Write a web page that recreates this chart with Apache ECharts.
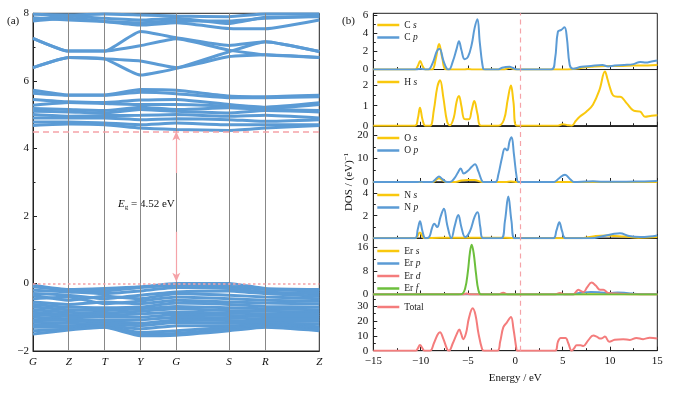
<!DOCTYPE html>
<html><head><meta charset="utf-8">
<script src="https://cdn.jsdelivr.net/npm/echarts@6/dist/echarts.min.js"></script>
<style>html,body{margin:0;padding:0;background:#fff}#c{width:678px;height:393px}</style>
</head><body><div id="c"></div>
<script>
// ---------- Band structure (a) ----------
const kLabels = ['G','Z','T','Y','G','S','R','Z'];
const kPos = [0, 35.7, 71.7, 107.3, 143.3, 196, 232.3, 286.3];

// conduction bands: energies (eV) at G,Z,T,Y,G,S,R,Z
const cb01 = [7.97, 7.95, 7.98, 7.95, 7.92, 7.90, 7.98, 7.98];
const cb02 = [7.87, 7.80, 7.76, 7.72, 7.78, 7.77, 7.85, 7.92];
const cb03 = [7.77, 7.85, 7.76, 7.65, 7.72, 7.55, 7.54, 7.80];
const cb04 = [7.82, 7.92, 7.85, 7.80, 7.85, 7.70, 7.88, 7.90];
const cb05 = [7.26, 6.88, 6.88, 7.46, 7.28, 7.05, 7.16, 6.87];
const cb06 = [7.26, 6.88, 6.88, 7.04, 7.25, 6.91, 6.77, 6.69];
const cb07 = [6.39, 6.69, 6.65, 6.17, 6.37, 6.86, 7.16, 6.87];
const cb08 = [6.39, 6.69, 6.65, 6.59, 6.39, 6.72, 6.77, 6.69];
const cb09 = [5.72, 5.58, 5.58, 5.74, 5.72, 5.55, 5.53, 5.57];
const cb10 = [5.63, 5.57, 5.57, 5.66, 5.62, 5.50, 5.50, 5.53];
const cb11 = [5.45, 5.38, 5.36, 5.43, 5.45, 5.30, 5.22, 5.35];
const cb12 = [5.28, 5.36, 5.33, 5.30, 5.30, 5.25, 5.18, 5.30];
const cb13 = [5.18, 5.15, 5.12, 5.22, 5.15, 5.20, 5.15, 5.12];
const cb14 = [5.10, 5.08, 5.05, 5.15, 5.10, 5.05, 5.12, 5.08];
const cb15 = [5.00, 4.95, 4.97, 4.98, 5.00, 4.95, 4.98, 4.90];
const cb16 = [4.90, 4.90, 4.90, 4.85, 4.88, 4.85, 4.80, 4.85];
const cb17 = [4.78, 4.78, 4.75, 4.70, 4.75, 4.70, 4.70, 4.70];
const cb18 = [4.68, 4.72, 4.70, 4.60, 4.56, 4.53, 4.60, 4.68];
// valence bands
const vb01 = [-0.05, -0.18, -0.15, -0.10, 0.00, 0.00, -0.15, -0.18];
const vb02 = [-0.10, -0.20, -0.22, -0.12, -0.05, -0.08, -0.18, -0.22];
const vb03 = [-0.20, -0.25, -0.30, -0.22, -0.12, -0.15, -0.25, -0.30];
const vb04 = [-0.30, -0.35, -0.45, -0.35, -0.25, -0.22, -0.30, -0.38];
const vb05 = [-0.35, -0.50, -0.38, -0.45, -0.30, -0.35, -0.40, -0.45];
const vb06 = [-0.45, -0.40, -0.60, -0.52, -0.40, -0.45, -0.50, -0.52];
const vb07 = [-0.55, -0.62, -0.55, -0.60, -0.50, -0.55, -0.58, -0.60];
const vb08 = [-0.62, -0.70, -0.72, -0.70, -0.58, -0.62, -0.68, -0.70];
const vb09 = [-0.70, -0.78, -0.80, -0.75, -0.68, -0.72, -0.75, -0.78];
const vb10 = [-0.78, -0.85, -0.88, -0.82, -0.75, -0.80, -0.82, -0.85];
const vb11 = [-0.85, -0.92, -0.95, -0.90, -0.85, -0.88, -0.90, -0.92];
const vb12 = [-0.92, -0.98, -1.00, -1.00, -0.92, -0.95, -0.98, -0.98];
const vb13 = [-1.00, -1.05, -1.10, -1.08, -1.00, -1.02, -1.05, -1.05];
const vb14 = [-1.08, -1.10, -1.15, -1.18, -1.08, -1.10, -1.12, -1.12];
const vb15 = [-1.15, -1.18, -1.20, -1.25, -1.15, -1.18, -1.18, -1.20];
const vb16 = [-1.22, -1.25, -1.25, -1.35, -1.25, -1.25, -1.22, -1.28];
const vb17 = [-1.30, -1.30, -1.28, -1.45, -1.40, -1.30, -1.26, -1.32];
const vb18 = [-1.40, -1.35, -1.28, -1.50, -1.48, -1.35, -1.28, -1.36];
const vb19 = [-1.50, -1.38, -1.30, -1.55, -1.53, -1.40, -1.30, -1.40];

const bands = [cb01,cb02,cb03,cb04,cb05,cb06,cb07,cb08,cb09,cb10,cb11,cb12,cb13,cb14,cb15,cb16,cb17,cb18,
  vb01,vb02,vb03,vb04,vb05,vb06,vb07,vb08,vb09,vb10,vb11,vb12,vb13,vb14,vb15,vb16,vb17,vb18,vb19];
const gapValue = 4.52;
const cbmLine = 4.5, vbmLine = 0;

// ---------- DOS (b): [energy eV, DOS] ----------
const Cs = [[-15,0],[-10.6,0],[-10.3,0.4],[-10.05,0.95],[-9.8,0.4],[-9.5,0],[-8.8,0],[-8.4,1.2],[-8.05,2.85],[-7.7,1.2],[-7.3,0],[-5.4,0],[-5,0.05],[-4.5,0],[-1.2,0],[-0.6,0.2],[0,0],[5.5,0],[6.8,0.15],[8,0.3],[9.6,0.4],[11,0.4],[12.5,0.45],[14,0.45],[15,0.5]];
const Cp = [[-15,0],[-10.5,0],[-10,0.1],[-9.5,0],[-9.2,0],[-8.7,0.8],[-8.3,2.0],[-8.0,2.3],[-7.6,1.0],[-7.2,0.05],[-7.0,0],[-6.6,0.9],[-6.2,2.3],[-5.95,3.15],[-5.7,2.2],[-5.35,1.15],[-5.0,1.4],[-4.6,2.8],[-4.3,4.6],[-4.0,5.6],[-3.75,3.0],[-3.4,0.1],[-3.2,0],[-1.8,0],[-1.4,0.2],[-0.6,0.3],[-0.3,0.2],[0.2,0],[3.8,0],[4.2,1.2],[4.5,4.2],[4.85,4.4],[5.2,4.7],[5.45,3.5],[5.75,0.5],[6.1,0.1],[7,0.3],[8,0.4],[9.2,0.5],[9.8,0.35],[10.5,0.45],[11.5,0.5],[12.5,0.6],[13.2,0.85],[13.8,0.78],[14.4,0.9],[15,1.0]];
const Hs = [[-15,0],[-10.6,0],[-10.3,0.35],[-10.07,0.9],[-9.8,0.3],[-9.5,0],[-9,0],[-8.6,0.8],[-8.25,1.9],[-7.95,2.26],[-7.6,1.4],[-7.2,0.2],[-6.9,0.02],[-6.5,0.4],[-6.2,1.2],[-5.95,1.48],[-5.7,1.0],[-5.35,0.33],[-4.9,0.32],[-4.6,0.8],[-4.33,1.23],[-4.0,0.6],[-3.6,0],[-1.8,0],[-1.2,0.3],[-0.8,1.3],[-0.46,2.0],[-0.2,1.2],[0.15,0],[4.5,0],[5.0,0.08],[5.5,0.03],[5.95,0],[6.4,0.25],[6.8,0.45],[7.5,0.7],[8.2,1.05],[8.9,1.8],[9.47,2.7],[9.75,2.3],[10.0,1.9],[10.35,1.5],[10.8,1.45],[11.06,1.45],[11.8,1.1],[12.5,0.75],[13.2,0.7],[13.7,0.45],[14.4,0.5],[15,0.52]];
const Os = [[-15,0],[-8.7,0],[-8.4,0.8],[-8.06,1.6],[-7.7,0.8],[-7.3,0],[-6.3,0],[-5.7,0.6],[-5,0.8],[-4.3,0.8],[-3.7,0.2],[-3.4,0],[-1,0],[-0.5,0.2],[0.2,0],[15,0]];
const Op = [[-15,0],[-10.3,0],[-10,0.1],[-9.7,0],[-8.8,0],[-8.4,1.3],[-8.06,2.3],[-7.7,1.2],[-7.2,0],[-6.9,0],[-6.4,1.8],[-6.0,4.5],[-5.77,5.8],[-5.45,3.6],[-5.0,4.8],[-4.6,6.5],[-4.26,7.6],[-3.9,4.5],[-3.5,0.3],[-3.3,0],[-2.1,0],[-1.8,3],[-1.4,10.5],[-1.1,14.3],[-0.85,13.5],[-0.6,17.5],[-0.39,19.1],[-0.15,12],[0.15,2],[0.35,0],[4.1,0],[4.6,1.5],[5.25,3.1],[5.8,1.2],[6.2,0],[7.5,0.2],[8.2,0.3],[9,0.15],[11,0.1],[13,0.2],[15,0.4]];
const Ns = [[-15,0],[-10.6,0],[-10.07,0.5],[-9.6,0],[-8,0.05],[-5,0.05],[-1,0.05],[0.3,0],[7,0],[8.5,0.2],[9.6,0.25],[10.5,0.2],[11.5,0.15],[13,0.05],[15,0.1]];
const Np = [[-15,0],[-10.6,0],[-10.3,0.8],[-10.07,1.52],[-9.8,0.6],[-9.5,0],[-9.1,0.1],[-8.8,0.9],[-8.56,1.28],[-8.25,1.0],[-7.9,1.9],[-7.54,2.63],[-7.2,1.2],[-6.75,0],[-6.4,1.1],[-6.02,2.07],[-5.7,1.0],[-5.3,0.1],[-4.8,0.6],[-4.3,1.9],[-3.98,2.3],[-3.7,1.0],[-3.4,0],[-1.5,0],[-1.1,1.5],[-0.74,3.7],[-0.4,1.5],[-0.05,0],[4.0,0],[4.35,0.7],[4.65,1.43],[4.95,0.6],[5.3,0],[8,0],[9.3,0.2],[10.2,0.35],[11.06,0.45],[12,0.2],[13.2,0.1],[14.2,0.15],[15,0.25]];
const Ers = [[-15,0],[-5,0.05],[0,0],[8,0.05],[15,0]];
const Erp = [[-15,0],[6,0],[6.5,0.3],[7.2,0.7],[8,0.8],[9,0.7],[10,0.5],[10.8,0.65],[11.5,0.6],[12.3,0.3],[13.2,0.1],[15,0.05]];
const Erd = [[-15,0],[-5.6,0],[-5.14,0.3],[-4.7,0],[-1.8,0],[-1.27,0.6],[-0.8,0],[4.2,0],[4.72,0.5],[5.2,0],[6.1,0],[6.4,0.8],[6.65,1.6],[6.9,1.2],[7.2,0.8],[7.6,2.5],[8.06,4.0],[8.5,3.0],[8.94,1.6],[9.3,1.6],[9.8,0.5],[10.7,0.3],[12,0.1],[15,0]];
const Erf = [[-15,0],[-6,0],[-5.67,0.1],[-5.3,2],[-5.0,8],[-4.8,14],[-4.61,16.8],[-4.4,14],[-4.15,7],[-3.9,1.5],[-3.6,0],[15,0]];
const Total = [[-15,0],[-10.5,0],[-10.3,1.5],[-10.07,3.8],[-9.8,1.5],[-9.6,0],[-9.0,0],[-8.6,5],[-8.2,11],[-7.96,12.5],[-7.6,8],[-7.2,1],[-7.0,0],[-6.6,5],[-6.2,11],[-5.92,14.3],[-5.7,11],[-5.5,7.8],[-5.2,12],[-4.9,22],[-4.5,28.6],[-4.2,24],[-3.9,12],[-3.5,1],[-3.3,0],[-1.9,0],[-1.6,6],[-1.27,15.7],[-0.9,19],[-0.46,22.8],[-0.2,15],[0.1,2],[0.2,0],[4.2,0],[4.5,6],[4.8,8.5],[5.3,8.5],[5.6,5],[5.95,0],[6.2,1.5],[6.48,3.6],[6.9,3.6],[7.2,3.2],[7.7,7],[8.24,10.3],[8.6,9.5],[8.94,8.2],[9.2,8.5],[9.47,9.5],[9.93,6.0],[10.5,7.4],[11.4,7.8],[12.1,7.2],[12.8,8.6],[13.5,7.8],[14.2,8.8],[15,8.3]];
const fermiMark = 0.5;

// ---------- styling / layout ----------
const FONT = "'Liberation Serif','Times New Roman',serif";
const BLUE = '#5b9bd5', YEL = '#f9c80e', RED = '#f47c7c', GRN = '#6cbf3c', PINK = '#f5a3a8';

const panels = [
  {series: [['C s', Cs, YEL], ['C p', Cp, BLUE]], max: 6.25, interval: 2},
  {series: [['H s', Hs, YEL]], max: 2.8, interval: 1},
  {series: [['O s', Os, YEL], ['O p', Op, BLUE]], max: 24, interval: 10},
  {series: [['N s', Ns, YEL], ['N p', Np, BLUE]], max: 5, interval: 2},
  {series: [['Er s', Ers, YEL], ['Er p', Erp, BLUE], ['Er d', Erd, RED], ['Er f', Erf, GRN]], max: 19, interval: 8},
  {series: [['Total', Total, RED]], max: 38, interval: 10}
];
const legendTops = [15, 72, 128, 185, 241, 297];

const R_LEFT = 373.3, R_WIDTH = 284, R_TOP = 13.3, P_H = 56.23;
const AX = '#222';

const grids = [{left: 33, top: 13.3, width: 286.3, height: 337.7, show: true, borderColor: AX, borderWidth: 1}];
const xAxes = [{
  gridIndex: 0, type: 'value', min: kPos[0], max: kPos[kPos.length - 1],
  axisLine: {onZero: false, lineStyle: {color: AX}}, axisTick: {show: false}, splitLine: {show: false},
  axisLabel: {customValues: kPos, formatter: v => kLabels[kPos.indexOf(v)] || '',
    fontFamily: FONT, fontSize: 11, fontStyle: 'italic', color: '#111', margin: 6}
}];
const yAxes = [{
  gridIndex: 0, type: 'value', min: -2, max: 8, interval: 2,
  axisLine: {onZero: false, lineStyle: {color: AX}},
  axisTick: {inside: true, length: 4, lineStyle: {color: AX}},
  minorTick: {show: true, splitNumber: 2, length: 2.5, lineStyle: {color: AX}},
  splitLine: {show: false},
  axisLabel: {fontFamily: FONT, fontSize: 11, color: '#111', margin: 4,
    formatter: v => (v < 0 ? '\u2212' + (-v) : '' + v)}
}];
const series = [];
const legends = [];

bands.forEach((b, i) => {
  const s = {
    type: 'line', xAxisIndex: 0, yAxisIndex: 0, symbol: 'none', silent: true, smooth: 0.15,
    data: kPos.map((x, j) => [x, b[j]]),
    lineStyle: {color: BLUE, width: 3}, itemStyle: {color: BLUE}, z: 3
  };
  if (i === 0) {
    s.markLine = {
      silent: true, symbol: ['none', 'none'], label: {show: false}, animation: false,
      lineStyle: {color: '#888', width: 1, type: 'solid'},
      data: kPos.slice(1, -1).map(x => ({xAxis: x})).concat([
        {yAxis: cbmLine, lineStyle: {color: PINK, type: [6, 4], width: 1.5}},
        {yAxis: vbmLine, lineStyle: {color: PINK, type: [2.5, 2.5], width: 1.5}},
        [{coord: [kPos[4], 3.27], symbol: 'none', lineStyle: {color: PINK, type: 'solid', width: 1.2}},
         {coord: [kPos[4], cbmLine], symbol: 'arrow', symbolSize: [6, 9]}],
        [{coord: [kPos[4], 1.53], symbol: 'none', lineStyle: {color: PINK, type: 'solid', width: 1.2}},
         {coord: [kPos[4], vbmLine + 0.05], symbol: 'arrow', symbolSize: [6, 9]}]
      ])
    };
    s.z = 2;
  }
  series.push(s);
});

panels.forEach((p, i) => {
  const gi = i + 1;
  const last = i === panels.length - 1;
  grids.push({left: R_LEFT, top: R_TOP + i * P_H, width: R_WIDTH, height: P_H, show: true, borderColor: AX, borderWidth: 1});
  xAxes.push({
    gridIndex: gi, type: 'value', min: -15, max: 15, interval: 5,
    axisLine: {onZero: false, lineStyle: {color: AX}},
    axisTick: {inside: true, length: 4, lineStyle: {color: AX}},
    minorTick: {show: true, splitNumber: 2, length: 2.5, lineStyle: {color: AX}},
    splitLine: {show: false},
    axisLabel: {show: last, fontFamily: FONT, fontSize: 11, color: '#111', margin: 5,
      formatter: v => (v < 0 ? '\u2212' + (-v) : '' + v)},
    name: last ? 'Energy / eV' : '', nameLocation: 'middle', nameGap: 22,
    nameTextStyle: {fontFamily: FONT, fontSize: 11, color: '#111'}
  });
  yAxes.push({
    gridIndex: gi, type: 'value', min: 0, max: p.max, interval: p.interval,
    axisLine: {onZero: false, lineStyle: {color: AX}},
    axisTick: {inside: true, length: 4, lineStyle: {color: AX}},
    minorTick: {show: true, splitNumber: 2, length: 2.5, lineStyle: {color: AX}},
    splitLine: {show: false},
    axisLabel: {fontFamily: FONT, fontSize: 11, color: '#111', margin: 5, showMaxLabel: false}
  });
  p.series.forEach(([name, data, color], k) => {
    const s = {
      name, type: 'line', xAxisIndex: gi, yAxisIndex: gi, symbol: 'none', smooth: 0.4,
      data, lineStyle: {color, width: 2}, itemStyle: {color}, z: 3 + k, silent: true
    };
    if (k === 0) {
      s.markLine = {silent: true, symbol: ['none', 'none'], label: {show: false}, animation: false,
        lineStyle: {color: PINK, type: [5, 4], width: 1.2}, data: [{xAxis: fermiMark}]};
    }
    series.push(s);
  });
  legends.push({
    data: p.series.map(s => s[0]), orient: 'vertical', left: R_LEFT - 1, top: legendTops[i],
    icon: 'rect', itemWidth: 22, itemHeight: 2.5, itemGap: 2.5, selectedMode: false,
    formatter: n => n.replace(/ ([a-z])$/, ' {i|$1}'),
    textStyle: {fontFamily: FONT, fontSize: 9.5, color: '#222', lineHeight: 10,
      rich: {i: {fontFamily: FONT, fontSize: 9.5, fontStyle: 'italic', color: '#222'}}}
  });
});

const chart = echarts.init(document.getElementById('c'), null, {renderer: 'canvas'});
chart.setOption({
  animation: false,
  backgroundColor: '#fff',
  grid: grids, xAxis: xAxes, yAxis: yAxes, series, legend: legends,
  graphic: [
    {type: 'text', left: 7, top: 16, style: {text: '(a)', font: '11px ' + FONT, fill: '#111'}},
    {type: 'text', left: 342, top: 16, style: {text: '(b)', font: '11px ' + FONT, fill: '#111'}},
    {type: 'text', left: 118, top: 199, style: {
      text: '{e|E}{g|g}{t| = ' + gapValue.toFixed(2) + ' eV}',
      rich: {e: {fontFamily: FONT, fontSize: 11, fontStyle: 'italic', fill: '#111'},
             g: {fontFamily: FONT, fontSize: 7, fill: '#111', padding: [6, 0, 0, 0]},
             t: {fontFamily: FONT, fontSize: 11, fill: '#111'}}}},
    {type: 'text', x: 349, y: 182, rotation: Math.PI / 2, style: {
      text: '{t|DOS / (eV)}{s|\u22121}', align: 'center', verticalAlign: 'middle',
      rich: {t: {fontFamily: FONT, fontSize: 11, fill: '#111'},
             s: {fontFamily: FONT, fontSize: 7, fill: '#111', padding: [0, 0, 6, 0]}}}}
  ]
});
</script></body></html>
